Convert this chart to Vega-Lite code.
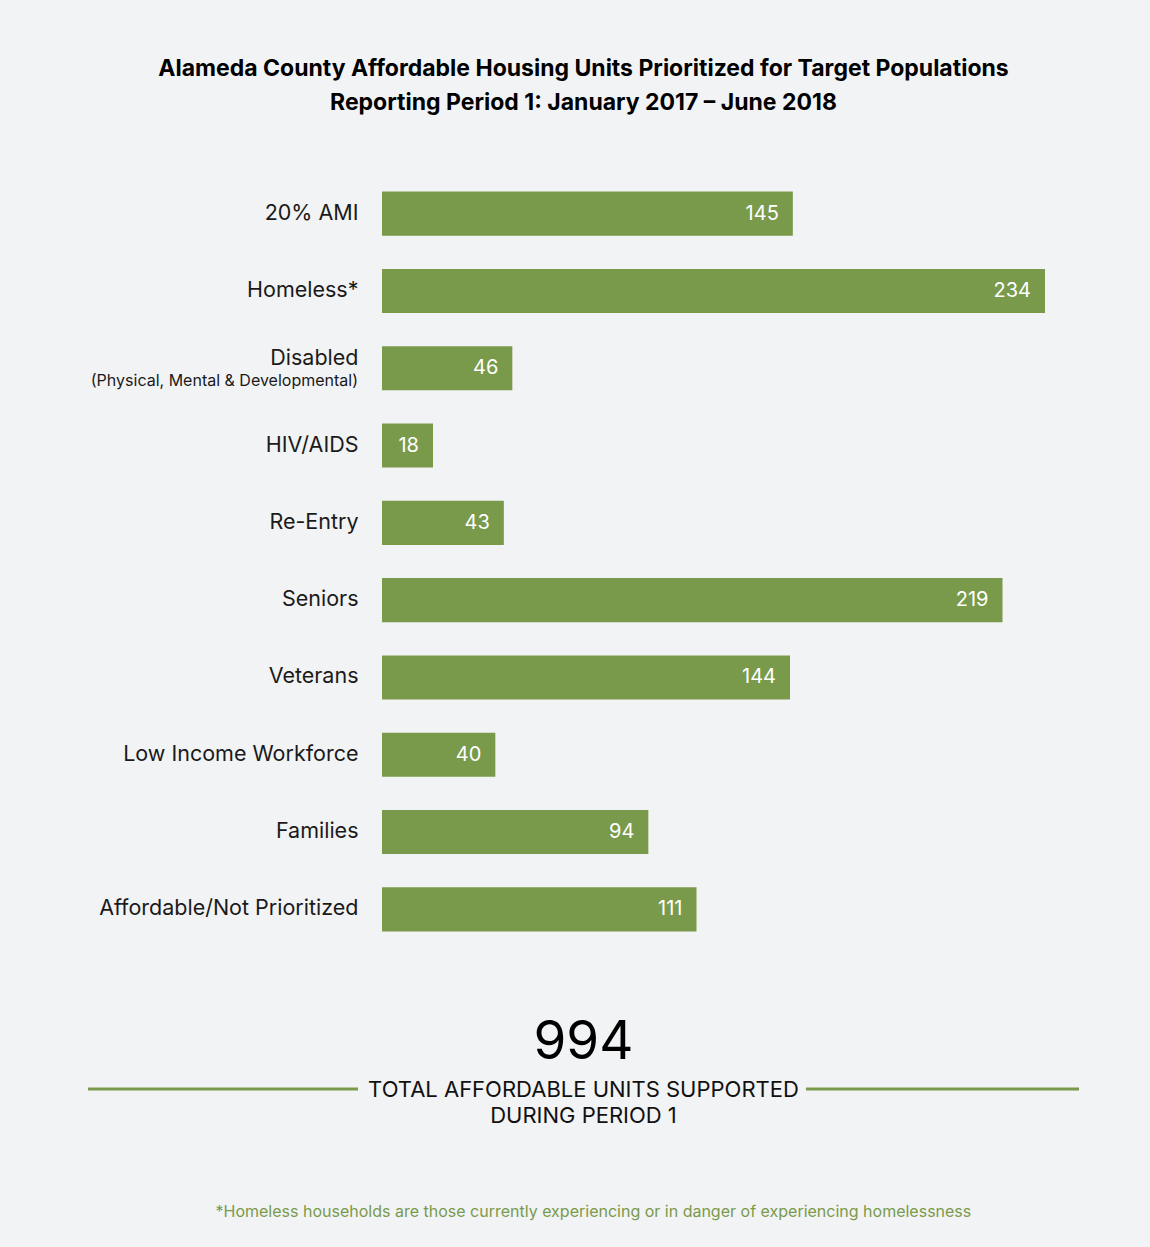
{
  "$schema": "https://vega.github.io/schema/vega-lite/v6.json",
  "background": "#f2f3f5",
  "padding": {"left": 86, "top": 58, "right": 72, "bottom": 6},
  "title": {
    "text": ["Alameda County Affordable Housing Units Prioritized for Target Populations", "Reporting Period 1: January 2017 – June 2018"],
    "font": "Inter",
    "fontSize": 23,
    "fontWeight": "bold",
    "color": "#000000",
    "anchor": "middle",
    "lineHeight": 34,
    "offset": 60
  },
  "config": {
    "view": {"stroke": null},
    "font": "Inter"
  },
  "spacing": 53,
  "vconcat": [
    {
      "width": 663,
      "height": 773,
      "data": {
        "values": [
          {"category": "20% AMI", "units": 145},
          {"category": "Homeless*", "units": 234},
          {"category": "Disabled", "units": 46, "note": "(Physical, Mental & Developmental)"},
          {"category": "HIV/AIDS", "units": 18},
          {"category": "Re-Entry", "units": 43},
          {"category": "Seniors", "units": 219},
          {"category": "Veterans", "units": 144},
          {"category": "Low Income Workforce", "units": 40},
          {"category": "Families", "units": 94},
          {"category": "Affordable/Not Prioritized", "units": 111}
        ]
      },
      "encoding": {
        "y": {
          "field": "category",
          "type": "nominal",
          "sort": null,
          "scale": {"paddingInner": 0.43, "paddingOuter": 0.215},
          "axis": {
            "title": null,
            "domain": false,
            "ticks": false,
            "labelFont": "Inter",
            "labelFontSize": 21.5,
            "labelColor": "#1a1a1a",
            "labelPadding": 24,
            "labelLimit": 400,
            "minExtent": 294,
            "maxExtent": 294,
            "labelOffset": {"condition": {"test": "datum.value === 'Disabled'", "value": -9}, "value": 0}
          }
        }
      },
      "layer": [
        {
          "mark": {"type": "bar", "color": "#7a9a4b"},
          "encoding": {
            "x": {"field": "units", "type": "quantitative", "scale": {"domain": [0, 234], "nice": false}, "axis": null}
          }
        },
        {
          "mark": {"type": "text", "align": "right", "baseline": "middle", "dx": -14, "color": "#ffffff", "fontSize": 20, "font": "Inter"},
          "encoding": {
            "x": {"field": "units", "type": "quantitative"},
            "text": {"field": "units", "type": "quantitative"}
          }
        },
        {
          "transform": [{"filter": "datum.note != null"}],
          "mark": {"type": "text", "align": "right", "baseline": "middle", "dx": -24, "dy": 13, "color": "#1a1a1a", "fontSize": 16, "font": "Inter"},
          "encoding": {
            "x": {"datum": 0},
            "text": {"field": "note"}
          }
        }
      ]
    },
    {
      "width": 697,
      "height": 240,
      "data": {
        "values": [
          {"total": 994, "line1": "TOTAL AFFORDABLE UNITS SUPPORTED", "line2": "DURING PERIOD 1", "footnote": "*Homeless households are those currently experiencing or in danger of experiencing homelessness"}
        ]
      },
      "layer": [
        {
          "mark": {"type": "text", "align": "center", "baseline": "alphabetic", "fontSize": 53, "color": "#000000", "font": "Inter"},
          "encoding": {
            "x": {"datum": 0.5, "type": "quantitative", "scale": {"domain": [0.2967, 1], "nice": false, "zero": false}, "axis": null},
            "y": {"datum": 0.2417, "type": "quantitative", "scale": {"domain": [0, 1], "reverse": true, "nice": false}, "axis": null},
            "text": {"field": "total"}
          }
        },
        {
          "mark": {"type": "rule", "color": "#7a9a4b", "strokeWidth": 3},
          "encoding": {
            "x": {"datum": 0, "type": "quantitative"},
            "x2": {"datum": 0.2725},
            "y": {"datum": 0.3667, "type": "quantitative"}
          }
        },
        {
          "mark": {"type": "rule", "color": "#7a9a4b", "strokeWidth": 3},
          "encoding": {
            "x": {"datum": 0.7245, "type": "quantitative"},
            "x2": {"datum": 1},
            "y": {"datum": 0.3667, "type": "quantitative"}
          }
        },
        {
          "mark": {"type": "text", "align": "center", "baseline": "alphabetic", "fontSize": 22, "color": "#111111", "font": "Inter"},
          "encoding": {
            "x": {"datum": 0.5, "type": "quantitative"},
            "y": {"datum": 0.402, "type": "quantitative"},
            "text": {"field": "line1"}
          }
        },
        {
          "mark": {"type": "text", "align": "center", "baseline": "alphabetic", "fontSize": 22, "color": "#111111", "font": "Inter"},
          "encoding": {
            "x": {"datum": 0.5, "type": "quantitative"},
            "y": {"datum": 0.51, "type": "quantitative"},
            "text": {"field": "line2"}
          }
        },
        {
          "mark": {"type": "text", "align": "center", "baseline": "alphabetic", "fontSize": 16, "color": "#7a9a4b", "font": "Inter"},
          "encoding": {
            "x": {"datum": 0.51, "type": "quantitative"},
            "y": {"datum": 0.9, "type": "quantitative"},
            "text": {"field": "footnote"}
          }
        }
      ]
    }
  ]
}
